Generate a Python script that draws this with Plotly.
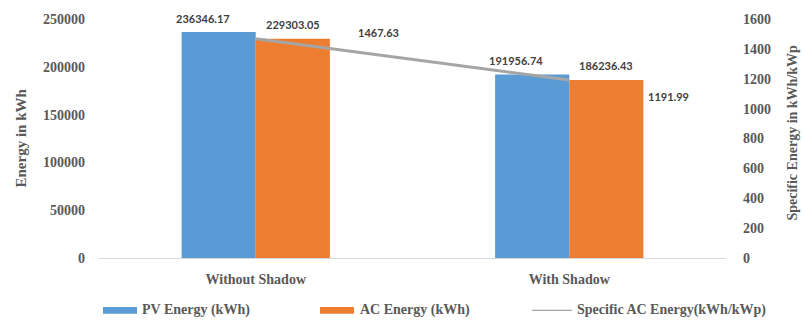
import plotly.graph_objects as go

# ---- data ----
categories = ["Without Shadow", "With Shadow"]
pv_energy = [236346.17, 191956.74]
ac_energy = [229303.05, 186236.43]
specific_ac = [1467.63, 1191.99]
legend_names = ["PV Energy (kWh)", "AC Energy (kWh)", "Specific AC Energy(kWh/kWp)"]

# ---- styling ----
W, H = 803, 323
ML, MR, MT, MB = 99, 77, 16, 65
BLUE, ORANGE, GREY = "#5B9BD5", "#ED7D31", "#A5A5A5"
TXT = "#595959"
LBL = "#404040"
SERIF = "Liberation Serif, Times New Roman, serif"
SANS = "Lato, Carlito, Calibri, sans-serif"

plot_w = W - ML - MR
plot_h = H - MT - MB


def paper_x(px):
    return (px - ML) / plot_w


def paper_y(py):
    return (H - MB - py) / plot_h


fig = go.Figure()
fig.add_trace(go.Bar(x=categories, y=pv_energy, name=legend_names[0],
                     marker=dict(color=BLUE, line=dict(width=0)), showlegend=False))
fig.add_trace(go.Bar(x=categories, y=ac_energy, name=legend_names[1],
                     marker=dict(color=ORANGE, line=dict(width=0)), showlegend=False))
fig.add_trace(go.Scatter(x=categories, y=specific_ac, name=legend_names[2], yaxis="y2",
                         mode="lines", line=dict(color=GREY, width=3), showlegend=False))

annotations = []
label_font = dict(family=SANS, size=11, color=LBL)
# bar value labels
for cat, v in zip(categories, pv_energy):
    annotations.append(dict(x=cat, y=v, xref="x", yref="y", text=f"<b>{v:.2f}</b>",
                            showarrow=False, xshift=-53, yshift=14,
                            xanchor="center", yanchor="middle", font=label_font))
for cat, v in zip(categories, ac_energy):
    annotations.append(dict(x=cat, y=v, xref="x", yref="y", text=f"<b>{v:.2f}</b>",
                            showarrow=False, xshift=37, yshift=14,
                            xanchor="center", yanchor="middle", font=label_font))
# line value labels
line_offsets = [(123, 6), (99, -17)]
for cat, v, (dx, dy) in zip(categories, specific_ac, line_offsets):
    annotations.append(dict(x=cat, y=v, xref="x", yref="y2", text=f"<b>{v:.2f}</b>",
                            showarrow=False, xshift=dx, yshift=dy,
                            xanchor="center", yanchor="middle", font=label_font))

# axis titles
annotations.append(dict(x=paper_x(20), y=paper_y(137), xref="paper", yref="paper",
                        text="<b>Energy in kWh</b>", textangle=-90, showarrow=False,
                        xanchor="center", yanchor="middle",
                        font=dict(family=SERIF, size=15, color=TXT)))
annotations.append(dict(x=paper_x(793), y=paper_y(131), xref="paper", yref="paper",
                        text="<b>Specific Energy in kWh/kWp</b>", textangle=-90, showarrow=False,
                        xanchor="center", yanchor="middle",
                        font=dict(family=SERIF, size=14, color=TXT)))

# legend
shapes = []
legend_items = [
    (103, 137, BLUE, "bar", 140),
    (320, 354, ORANGE, "bar", 358),
    (532, 572, GREY, "line", 575),
]
ly = 311
for (x0, x1, col, kind, tx), name in zip(legend_items, legend_names):
    if kind == "bar":
        shapes.append(dict(type="rect", xref="paper", yref="paper",
                           x0=paper_x(x0), x1=paper_x(x1),
                           y0=paper_y(ly + 3.5), y1=paper_y(ly - 3.5),
                           fillcolor=col, line=dict(width=0)))
    else:
        shapes.append(dict(type="line", xref="paper", yref="paper",
                           x0=paper_x(x0), x1=paper_x(x1),
                           y0=paper_y(ly), y1=paper_y(ly),
                           line=dict(color=col, width=1.3)))
    annotations.append(dict(x=paper_x(tx), y=paper_y(ly), xref="paper", yref="paper",
                            text=f"<b>{name}</b>", showarrow=False,
                            xanchor="left", yanchor="middle",
                            font=dict(family=SERIF, size=14, color=TXT)))

fig.update_layout(
    width=W, height=H,
    margin=dict(l=ML, r=MR, t=MT, b=MB, pad=0),
    paper_bgcolor="white", plot_bgcolor="white",
    barmode="group", bargap=0.527, bargroupgap=0,
    showlegend=False,
    xaxis=dict(showgrid=False, showline=True, linecolor="#D9D9D9", linewidth=1,
               ticks="", tickfont=dict(family=SERIF, size=14, color=TXT),
               tickprefix="<b>", ticksuffix="</b>", ticklabelstandoff=8),
    yaxis=dict(range=[0, 250000], dtick=50000, showgrid=False, zeroline=False,
               showline=False, ticks="", tickformat="d",
               tickfont=dict(family=SERIF, size=14, color=TXT),
               tickprefix="<b>", ticksuffix="</b>", ticklabelstandoff=13),
    yaxis2=dict(range=[0, 1600], dtick=200, overlaying="y", side="right",
                showgrid=False, zeroline=False, showline=False, ticks="",
                tickfont=dict(family=SERIF, size=14, color=TXT),
                tickprefix="<b>", ticksuffix="</b>", ticklabelstandoff=16),
    annotations=annotations,
    shapes=shapes,
)

fig.write_html("out.html")
